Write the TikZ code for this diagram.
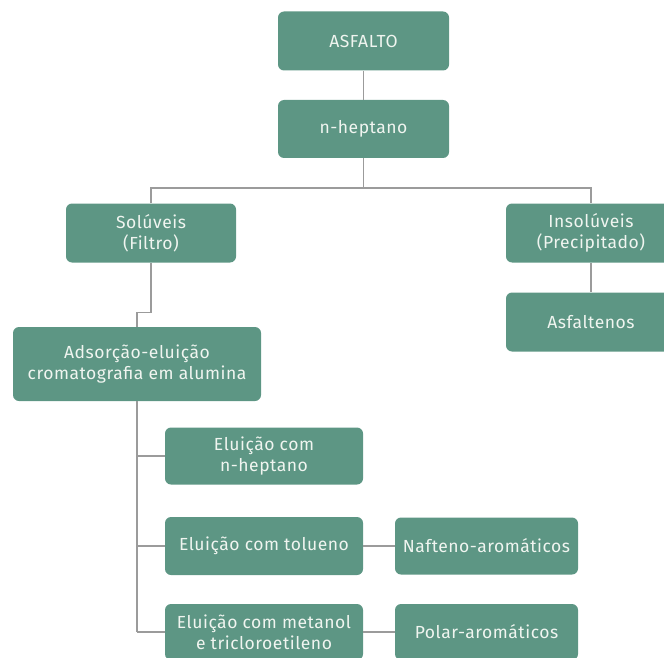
\documentclass[tikz,border=0pt]{standalone}
\usepackage{fontspec}
\setmainfont{Fira Sans}[LetterSpace=3]
\definecolor{boxfill}{RGB}{93,150,132}
\definecolor{boxtext}{RGB}{240,245,240}
\definecolor{linecol}{RGB}{155,155,155}
\begin{document}
\begin{tikzpicture}[x=1pt,y=-1pt,
  box/.style={draw=none,fill=boxfill,rounded corners=6pt,text=boxtext,
    align=center,font=\fontsize{17.5}{21}\selectfont,inner sep=0pt},
  conn/.style={draw=linecol,line width=1.5pt}]
\useasboundingbox (0,0) rectangle (664,658);
\node[box,minimum width=171pt,minimum height=59pt] (asf) at (363.5,41) {ASFALTO};
\node[box,minimum width=171pt,minimum height=58pt] (hep) at (363.5,129) {n-heptano};
\node[box,minimum width=170pt,minimum height=59pt] (sol) at (151,233) {Solúveis\\(Filtro)};
\node[box,minimum width=170pt,minimum height=59pt] (ins) at (591,233) {Insolúveis\\(Precipitado)};
\node[box,minimum width=170pt,minimum height=59pt] (asfal) at (591,322) {Asfaltenos};
\node[box,minimum width=248pt,minimum height=74pt] (ads) at (137,364) {Adsorção-eluição\\cromatografia em alumina};
\node[box,minimum width=198pt,minimum height=57pt] (e1) at (264,456) {Eluição com\\n-heptano};
\node[box,minimum width=198pt,minimum height=58pt] (e2) at (264,546) {Eluição com tolueno};
\node[box,minimum width=198pt,minimum height=56pt] (e3) at (264,632) {Eluição com metanol\\e tricloroetileno};
\node[box,minimum width=183pt,minimum height=57pt] (naf) at (486.5,546) {Nafteno-aromáticos};
\node[box,minimum width=183pt,minimum height=56pt] (pol) at (486.5,632) {Polar-aromáticos};
\coordinate (j) at (363.5,188);
\draw[conn] (asf.south) -- (hep.north);
\draw[conn] (hep.south) -- (j);
\draw[conn] (sol.north) -- (sol.north |- j) -- (ins.north |- j) -- (ins.north);
\draw[conn] (ins.south) -- (asfal.north);
\draw[conn] (sol.south) -- ++(0,50) -| (ads.north);
\draw[conn] (ads.south) -- (ads.south |- e3.west);
\draw[conn] (ads.south |- e1.west) -- (e1.west);
\draw[conn] (ads.south |- e2.west) -- (e2.west);
\draw[conn] (ads.south |- e3.west) -- (e3.west);
\draw[conn] (e2.east) -- (naf.west);
\draw[conn] (e3.east) -- (pol.west);
\end{tikzpicture}
\end{document}
